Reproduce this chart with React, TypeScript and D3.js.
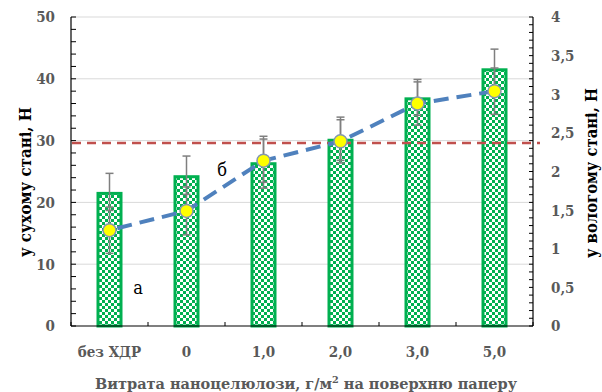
import React from "react";
import * as d3 from "d3";

// Category labels along the x axis (nanocellulose dosage)
const categories = ["без ХДР", "0", "1,0", "2,0", "3,0", "5,0"];
// Dry strength, N (left axis) and its error
const dryStrength = [21.7, 24.4, 26.5, 30.3, 37.0, 41.7];
const dryError = [3.0, 3.1, 4.2, 3.5, 2.9, 3.1];
// Wet strength, N (right axis) and its error
const wetStrength = [1.24, 1.49, 2.14, 2.39, 2.88, 3.04];
const wetError = [0.3, 0.31, 0.28, 0.28, 0.28, 0.3];
// Reference level (left axis units)
const referenceLevel = 29.6;
const leftTicks = [0, 10, 20, 30, 40, 50];
const rightTicks = [0, 0.5, 1, 1.5, 2, 2.5, 3, 3.5, 4];

const W = 602;
const H = 392;
const M = { left: 71, right: 533, top: 17, bottom: 326 };
const FONT = "'DejaVu Serif Condensed', 'DejaVu Serif', serif";
const GREY = "#595959";

const fmt = (v: number) => String(v).replace(".", ",");

export default function App() {
  const x = d3.scaleBand<string>().domain(categories).range([M.left, M.right]).padding(0);
  const yL = d3.scaleLinear().domain([0, 50]).range([M.bottom, M.top]);
  const yR = d3.scaleLinear().domain([0, 4]).range([M.bottom, M.top]);
  const barW = 26;
  const cx = (i: number) => (x(categories[i]) as number) + x.bandwidth() / 2;

  const line = d3
    .line<number>()
    .x((_, i) => cx(i))
    .y((d) => yR(d));

  const minorLeft = d3.range(0, 50.001, 2);
  const minorRight = d3.range(0, 4.001, 0.1);
  const capW = 4;
  const txt = { fontFamily: FONT };

  return (
    <svg
      width={W}
      height={H}
      style={{ position: "absolute", left: 0, top: 0, background: "#fff", fontFamily: FONT }}
    >
      <defs>
        <pattern id="checker" width="6" height="6" patternUnits="userSpaceOnUse">
          <rect width="6" height="6" fill="#ffffff" />
          <rect width="3" height="3" fill="#00B050" />
          <rect x="3" y="3" width="3" height="3" fill="#00B050" />
        </pattern>
      </defs>

      {/* horizontal gridlines */}
      {leftTicks.slice(1).map((t) => (
        <line key={t} x1={M.left} x2={M.right} y1={yL(t)} y2={yL(t)} stroke="#d9d9d9" strokeWidth={1} />
      ))}

      {/* bars: dry strength */}
      {dryStrength.map((v, i) => (
        <rect
          key={i}
          x={cx(i) - barW / 2 + 1.5}
          y={yL(v) + 1.5}
          width={barW - 3}
          height={yL(0) - yL(v) - 1.5}
          fill="url(#checker)"
          stroke="#00B050"
          strokeWidth={3}
        />
      ))}

      {/* error bars for dry strength */}
      {dryStrength.map((v, i) => (
        <g key={i} stroke="#7f7f7f" strokeWidth={1.5}>
          <line x1={cx(i)} x2={cx(i)} y1={yL(v + dryError[i])} y2={yL(v - dryError[i])} />
          <line x1={cx(i) - capW} x2={cx(i) + capW} y1={yL(v + dryError[i])} y2={yL(v + dryError[i])} />
          <line x1={cx(i) - capW} x2={cx(i) + capW} y1={yL(v - dryError[i])} y2={yL(v - dryError[i])} />
        </g>
      ))}

      {/* reference level */}
      <line
        x1={M.left + 1}
        x2={M.right + 7}
        y1={yL(referenceLevel)}
        y2={yL(referenceLevel)}
        stroke="#C0504D"
        strokeWidth={2.5}
        strokeDasharray="9,6"
      />

      {/* error bars for wet strength */}
      {wetStrength.map((v, i) => (
        <g key={i} stroke="#7f7f7f" strokeWidth={1.5}>
          <line x1={cx(i)} x2={cx(i)} y1={yR(v + wetError[i])} y2={yR(v - wetError[i])} />
          <line x1={cx(i) - capW} x2={cx(i) + capW} y1={yR(v + wetError[i])} y2={yR(v + wetError[i])} />
          <line x1={cx(i) - capW} x2={cx(i) + capW} y1={yR(v - wetError[i])} y2={yR(v - wetError[i])} />
        </g>
      ))}

      {/* wet strength line */}
      <path
        d={line(wetStrength) as string}
        fill="none"
        stroke="#4F81BD"
        strokeWidth={4}
        strokeDasharray="15,8"
        strokeDashoffset={-8}
      />
      {wetStrength.map((v, i) => (
        <circle key={i} cx={cx(i)} cy={yR(v)} r={6.5} fill="#FFFF00" stroke="#8497B0" strokeWidth={1.5} />
      ))}

      {/* axes */}
      <line x1={M.left} x2={M.left} y1={M.top} y2={M.bottom} stroke="#000" strokeWidth={1.2} />
      <line x1={M.right} x2={M.right} y1={M.top} y2={M.bottom} stroke="#000" strokeWidth={1.2} />
      <line x1={M.left} x2={M.right} y1={M.bottom} y2={M.bottom} stroke="#000" strokeWidth={1.2} />

      {minorLeft.map((t) => (
        <line key={t} x1={M.left} x2={M.left + 5} y1={yL(t)} y2={yL(t)} stroke="#000" strokeWidth={1} />
      ))}
      {minorRight.map((t) => (
        <line key={t} x1={M.right - 4} x2={M.right} y1={yR(t)} y2={yR(t)} stroke="#000" strokeWidth={1} />
      ))}
      {d3.range(categories.length + 1).map((i) => {
        const xx = M.left + i * x.bandwidth();
        return <line key={i} x1={xx} x2={xx} y1={M.bottom - 4} y2={M.bottom} stroke="#000" strokeWidth={1} />;
      })}

      {/* left tick labels */}
      {leftTicks.map((t) => (
        <text key={t} style={txt} x={M.left - 16} y={yL(t)} dy="0.36em" textAnchor="end" fontSize={15} fontWeight="bold" fill={GREY}>
          {t}
        </text>
      ))}
      {/* right tick labels */}
      {rightTicks.map((t) => (
        <text key={t} style={txt} x={M.right + 18} y={yR(t)} dy="0.36em" textAnchor="start" fontSize={15} fontWeight="bold" fill={GREY}>
          {fmt(t)}
        </text>
      ))}
      {/* category labels */}
      {categories.map((c, i) => (
        <text key={c} style={txt} x={cx(i)} y={357} textAnchor="middle" fontSize={15} fontWeight="bold" fill={GREY}>
          {c}
        </text>
      ))}

      {/* axis titles */}
      <text style={txt} x={95} y={389} fontSize={15} fontWeight="bold" fill={GREY} textLength={422} lengthAdjust="spacingAndGlyphs">
        Витрата наноцелюлози, г/м<tspan dy="-6" fontSize={10}>2</tspan>
        <tspan dy="6"> на поверхню паперу</tspan>
      </text>
      <text
        style={txt}
        transform={`translate(31,257) rotate(-90)`}
        fontSize={16}
        fontWeight="bold"
        fill="#000"
        textLength={150}
        lengthAdjust="spacingAndGlyphs"
      >
        у сухому стані, Н
      </text>
      <text
        style={txt}
        transform={`translate(597,258) rotate(-90)`}
        fontSize={16}
        fontWeight="bold"
        fill="#000"
        textLength={170}
        lengthAdjust="spacingAndGlyphs"
      >
        у вологому стані, Н
      </text>

      {/* panel letters */}
      <text style={txt} x={138} y={294} textAnchor="middle" fontSize={18} fill="#000">
        а
      </text>
      <text style={txt} x={222} y={176} textAnchor="middle" fontSize={18} fill="#000">
        б
      </text>
    </svg>
  );
}
